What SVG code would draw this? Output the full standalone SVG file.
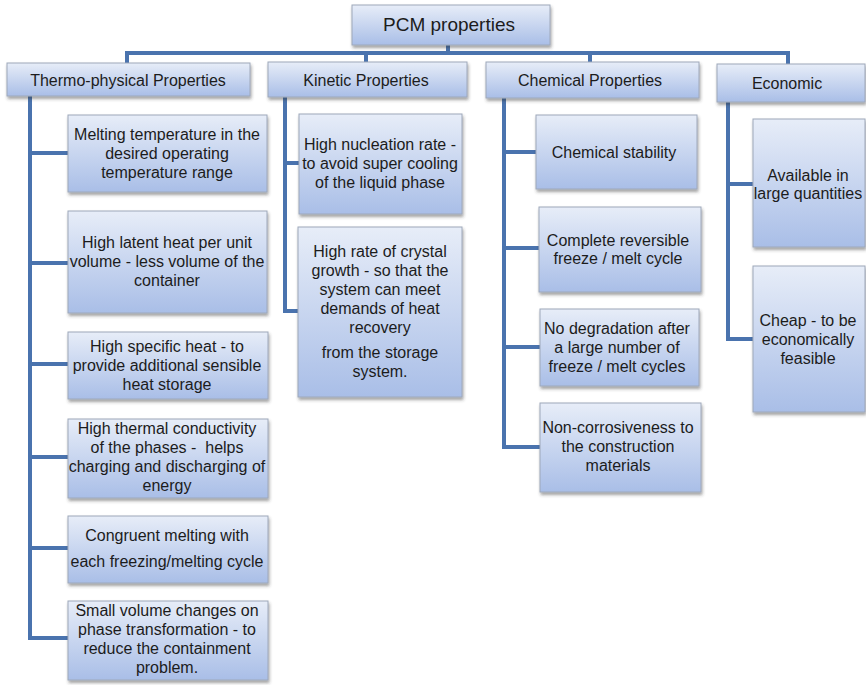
<svg xmlns="http://www.w3.org/2000/svg" width="866" height="685" viewBox="0 0 866 685">
<style>
.box{fill:url(#g);stroke:#9ea8ba;stroke-width:1;filter:url(#sh)}
.t{font-family:"Liberation Sans",Arial,sans-serif;font-size:16px;fill:#1c1c1c;text-anchor:middle;white-space:pre}
.c{fill:none;stroke:#4a73ae;stroke-width:4}
</style>
<defs>
<linearGradient id="g" x1="0" y1="0" x2="0" y2="1">
<stop offset="0" stop-color="#e7edf8"/>
<stop offset="1" stop-color="#a9bee7"/>
</linearGradient>
<filter id="sh" x="-10%" y="-10%" width="130%" height="140%">
<feDropShadow dx="1" dy="2.5" stdDeviation="1.5" flood-color="#333" flood-opacity="0.45"/>
</filter>
</defs>
<rect width="866" height="685" fill="#fff"/>
<g id="connectors">
<path class="c" d="M127,53 H788 M127,51 V64 M366,51 V63 M448,45 V53 M590,51 V63 M788,51 V65"/>
<path class="c" d="M30,96 V640 M28,153 H68 M28,263 H68 M28,364 H68 M28,457 H68 M28,548 H68 M28,638 H68"/>
<path class="c" d="M285,97 V313 M283,163 H299 M283,311 H299"/>
<path class="c" d="M504,98 V449 M502,152 H537 M502,248 H539 M502,347 H540 M502,447 H540"/>
<path class="c" d="M728,102 V341 M726,184 H753 M726,339 H753"/>
</g>
<g id="root"><rect class="box" x="352" y="5" width="198" height="40"/><text class="t" x="449" y="31" style="font-size:19px">PCM properties</text></g>
<g id="thermo"><rect class="box" x="7" y="63" width="243" height="33"/><text class="t" x="128" y="86">Thermo-physical Properties</text></g>
<g id="kinetic"><rect class="box" x="268" y="62" width="199" height="35"/><text class="t" x="366" y="86">Kinetic Properties</text></g>
<g id="chemical"><rect class="box" x="486" y="62" width="213" height="36"/><text class="t" x="590" y="86">Chemical Properties</text></g>
<g id="economic"><rect class="box" x="717" y="64" width="148" height="38"/><text class="t" x="787" y="89">Economic</text></g>

<g id="t1"><rect class="box" x="68" y="115" width="199" height="77"/><text class="t" x="167" y="140">Melting temperature in the</text><text class="t" x="167" y="159">desired operating</text><text class="t" x="167" y="178">temperature range</text></g>
<g id="t2"><rect class="box" x="68" y="211" width="199" height="102"/><text class="t" x="167" y="248">High latent heat per unit</text><text class="t" x="167" y="267">volume - less volume of the</text><text class="t" x="167" y="286">container</text></g>
<g id="t3"><rect class="box" x="68" y="332" width="200" height="67"/><text class="t" x="167" y="352">High specific heat - to</text><text class="t" x="167" y="371">provide additional sensible</text><text class="t" x="167" y="390">heat storage</text></g>
<g id="t4"><rect class="box" x="68" y="419" width="200" height="79"/><text class="t" x="167" y="434">High thermal conductivity</text><text class="t" x="167" y="453">of the phases -  helps</text><text class="t" x="167" y="472">charging and discharging of</text><text class="t" x="167" y="491">energy</text></g>
<g id="t5"><rect class="box" x="68" y="516" width="200" height="67"/><text class="t" x="167" y="541">Congruent melting with</text><text class="t" x="167" y="567">each freezing/melting cycle</text></g>
<g id="t6"><rect class="box" x="68" y="601" width="200" height="79"/><text class="t" x="167" y="616">Small volume changes on</text><text class="t" x="167" y="635">phase transformation - to</text><text class="t" x="167" y="654">reduce the containment</text><text class="t" x="167" y="673">problem.</text></g>

<g id="k1"><rect class="box" x="299" y="114" width="163" height="100"/><text class="t" x="380" y="150">High nucleation rate -</text><text class="t" x="380" y="169">to avoid super cooling</text><text class="t" x="380" y="188">of the liquid phase</text></g>
<g id="k2"><rect class="box" x="298" y="227" width="164" height="170"/><text class="t" x="380" y="257">High rate of crystal</text><text class="t" x="380" y="276">growth - so that the</text><text class="t" x="380" y="295">system can meet</text><text class="t" x="380" y="314">demands of heat</text><text class="t" x="380" y="333">recovery</text><text class="t" x="380" y="358">from the storage</text><text class="t" x="380" y="377">system.</text></g>

<g id="c1"><rect class="box" x="536" y="115" width="161" height="74"/><text class="t" x="614" y="158">Chemical stability</text></g>
<g id="c2"><rect class="box" x="539" y="207" width="162" height="85"/><text class="t" x="618" y="246">Complete reversible</text><text class="t" x="618" y="264">freeze / melt cycle</text></g>
<g id="c3"><rect class="box" x="540" y="309" width="159" height="77"/><text class="t" x="617" y="334">No degradation after</text><text class="t" x="617" y="353">a large number of</text><text class="t" x="617" y="372">freeze / melt cycles</text></g>
<g id="c4"><rect class="box" x="540" y="403" width="161" height="89"/><text class="t" x="618" y="433">Non-corrosiveness to</text><text class="t" x="618" y="452">the construction</text><text class="t" x="618" y="471">materials</text></g>

<g id="e1"><rect class="box" x="753" y="119" width="112" height="128"/><text class="t" x="808" y="181">Available in</text><text class="t" x="808" y="199">large quantities</text></g>
<g id="e2"><rect class="box" x="753" y="266" width="112" height="146"/><text class="t" x="808" y="326">Cheap - to be</text><text class="t" x="808" y="345">economically</text><text class="t" x="808" y="364">feasible</text></g>
</svg>
